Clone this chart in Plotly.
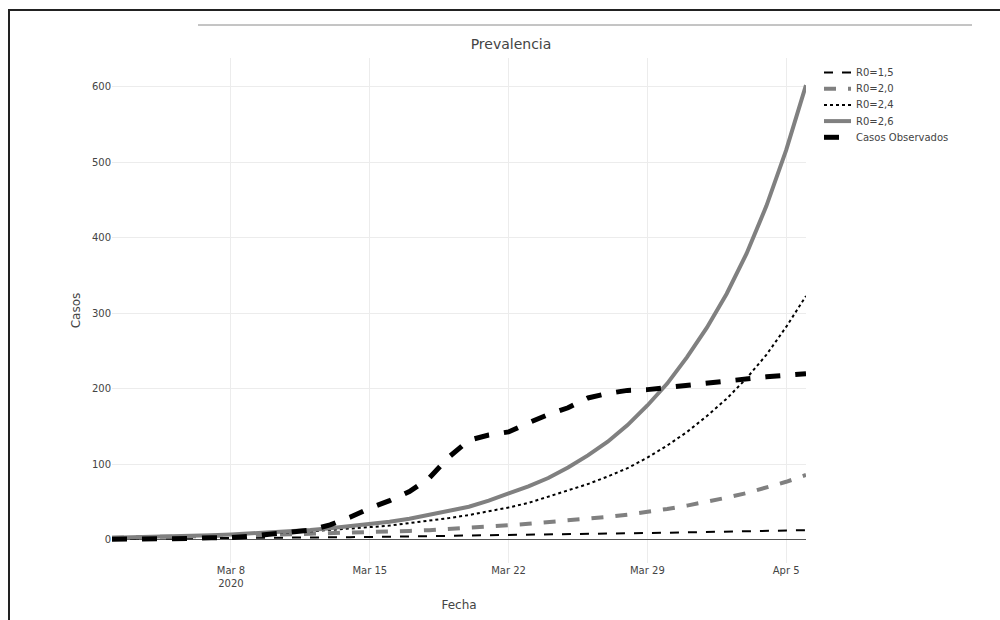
import pandas as pd
import plotly.graph_objects as go

# Daily dates, Mar 2 to Apr 6 2020
fechas = pd.date_range("2020-03-02", "2020-04-06", freq="D")

r0_15 = [1.5, 1.6, 1.8, 1.9, 2.0, 2.2, 2.4, 2.6, 2.8, 3.0, 3.2, 3.4, 3.7, 4.0,
         4.3, 4.6, 4.9, 5.2, 5.6, 6.0, 6.4, 6.8, 7.2, 7.6, 8.0, 8.4, 8.8, 9.2,
         9.6, 10.0, 10.4, 10.9, 11.4, 11.9, 12.4, 13.0]

r0_20 = [3.0, 3.3, 3.7, 4.1, 4.6, 5.1, 5.6, 6.2, 6.8, 7.4, 8.0, 8.7, 9.3, 10.0,
         11.0, 12.0, 13.0, 14.3, 15.8, 17.5, 19.5, 21.5, 23.5, 25.5, 28.0, 30.5,
         33.5, 37.0, 41.0, 45.5, 50.5, 56.0, 62.0, 69.0, 77.0, 86.0]

r0_24 = [3.0, 3.4, 3.9, 4.5, 5.1, 5.9, 6.7, 7.6, 8.7, 10.0, 11.4, 13.0, 14.8, 17.0,
         19.0, 22.0, 25.0, 29.0, 33.0, 37.5, 43.0, 49.0, 57.0, 65.0, 74.0, 84.0,
         95.0, 109.0, 125.0, 143.0, 164.0, 187.0, 214.0, 245.0, 282.0, 323.0]

r0_26 = [2.9, 3.4, 4.0, 4.6, 5.4, 6.3, 7.3, 8.5, 9.9, 11.5, 13.3, 15.5, 18.0, 21.0,
         24.0, 28.0, 33.0, 38.0, 44.0, 52.0, 61.0, 71.0, 82.0, 96.0, 112.0, 130.0,
         152.0, 178.0, 207.0, 242.0, 281.0, 326.0, 379.0, 442.0, 516.0, 602.0]

observados = [1, 1, 1, 2, 2, 3, 3, 5, 8, 10, 13, 20, 30, 42,
              52, 64, 82, 110, 132, 139, 143, 155, 166, 175, 188, 194,
              198, 199, 202, 205, 208, 211, 214, 216, 218, 220]

series = [
    ("R0=1,5", r0_15, "black", 2, "dash"),
    ("R0=2,0", r0_20, "#808080", 4, "dash"),
    ("R0=2,4", r0_24, "black", 2, "dot"),
    ("R0=2,6", r0_26, "#808080", 4, "solid"),
    ("Casos Observados", observados, "black", 5, "dash"),
]

FONT = "Verdana, DejaVu Sans, sans-serif"

fig = go.Figure()
for nombre, valores, color, ancho, trazo in series:
    fig.add_trace(go.Scatter(
        x=fechas, y=valores, name=nombre, mode="lines",
        line=dict(color=color, width=ancho, dash=trazo),
        showlegend=False,
    ))

fig.update_layout(
    width=1000, height=620,
    margin=dict(l=112, r=194, t=58, b=57, autoexpand=False),
    paper_bgcolor="white", plot_bgcolor="white",
    font=dict(family=FONT, size=10, color="#444"),
    title=dict(text="Prevalencia", x=0.511, xanchor="center",
               y=1 - 44 / 620, yanchor="middle",
               font=dict(family=FONT, size=14, color="#444")),
    xaxis=dict(
        title=dict(text="Fecha", font=dict(size=12), standoff=12),
        automargin=False,
        range=["2020-03-02", "2020-04-06"],
        showgrid=True, gridcolor="#ececec", zeroline=False,
        showline=False, ticks="",
        tickfont=dict(size=10),
    ),
    yaxis=dict(
        title=dict(text="Casos", font=dict(size=12), standoff=8),
        automargin=False,
        range=[-30.5, 638], dtick=100,
        showgrid=True, gridcolor="#ececec",
        zeroline=True, zerolinecolor="#555", zerolinewidth=1,
        showline=False, ticks="",
        tickfont=dict(size=10),
    ),
)

# Helpers to place page elements in paper units from pixel offsets
def px_x(p):
    return (p - 112) / 694

def px_y(p):
    return (563 - p) / 505

# Compact legend: a line sample and a label per series
leg_x0, leg_x1, leg_text = 824, 851, 854
leg_top, leg_step = 72.5, 16.2
for i, (nombre, valores, color, ancho, trazo) in enumerate(series):
    yy = px_y(leg_top + i * leg_step)
    fig.add_shape(type="line", xref="paper", yref="paper",
                  x0=px_x(leg_x0), x1=px_x(leg_x1), y0=yy, y1=yy,
                  line=dict(color=color, width=ancho, dash=trazo))
    fig.add_annotation(xref="paper", yref="paper", x=px_x(leg_text), y=yy,
                       text=nombre, showarrow=False, xanchor="left",
                       yanchor="middle",
                       font=dict(family=FONT, size=10, color="#444"))

# Page frame and rule around the figure
fig.add_shape(type="line", xref="paper", yref="paper",
              x0=px_x(9), x1=px_x(9), y0=px_y(10), y1=px_y(625),
              line=dict(color="#222", width=2))
fig.add_shape(type="line", xref="paper", yref="paper",
              x0=px_x(8), x1=px_x(1005), y0=px_y(10), y1=px_y(10),
              line=dict(color="#222", width=2))
fig.add_shape(type="line", xref="paper", yref="paper",
              x0=px_x(198), x1=px_x(972), y0=px_y(25), y1=px_y(25),
              line=dict(color="#8a8a8a", width=1))

fig.write_html("out.html")
